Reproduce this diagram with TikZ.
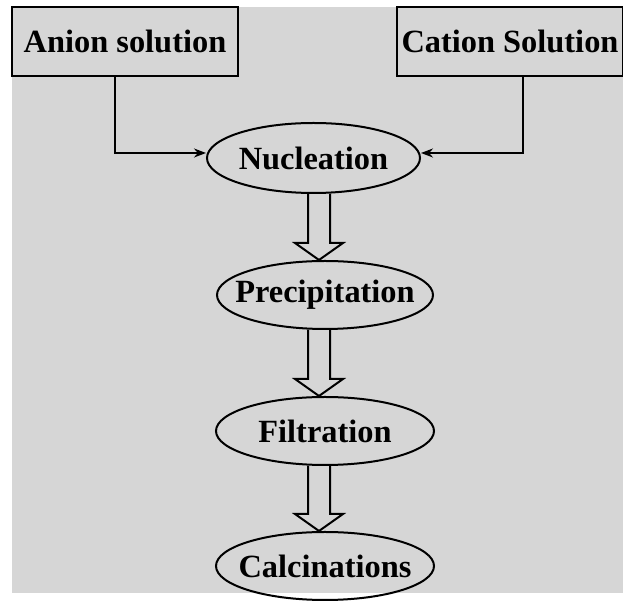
\documentclass[tikz,border=0pt]{standalone}
\usepackage{fontspec}
\setmainfont{Liberation Serif}
\usetikzlibrary{positioning, arrows.meta, calc, shapes.geometric}
\definecolor{bggray}{RGB}{214,214,214}
\newcommand{\zw}[1]{\makebox[0pt]{#1}}
% hollow block arrow from the bottom of #1 to the top of #2
\newcommand{\blockarrow}[2]{%
  \draw[hollow] ($(#1.south -| #2.north)+(-8.5pt,0)$) -- ($(#2.north)+(-8.5pt,8.5pt)$)
    -- ($(#2.north)+(-15pt,8.5pt)$) -- ($(#2.north)+(-3pt,0)$) -- ($(#2.north)+(9pt,8.5pt)$)
    -- ($(#2.north)+(2.5pt,8.5pt)$) -- ($(#1.south -| #2.north)+(2.5pt,0)$);}

\begin{document}
\begin{tikzpicture}[x=1pt, y=1pt, font=\bfseries\fontsize{16.2}{19}\selectfont, >={Stealth[length=6pt, width=4.5pt]},
  sol/.style={draw, line width=1pt, minimum width=113pt, minimum height=34.5pt, inner sep=2pt},
  proc/.style={draw, ellipse, line width=1pt, minimum width=108pt, minimum height=34pt, inner sep=0pt},
  hollow/.style={line width=1pt, line join=miter}]
  \useasboundingbox (0,0) rectangle (311.5,302.5);
  \fill[bggray] (6,6) rectangle (311.5,299);
  \node[sol] (an) at (62.5,281.75) {Anion solution};
  \node[sol] (ca) at (255,281.75) {Cation Solution};
  \node[proc, minimum width=106.5pt, minimum height=35pt] (nuc) at (156.75,223.5) {\zw{Nucleation}};
  \node[proc, below=33pt of nuc, xshift=5.75pt] (pre) {\zw{Precipitation}};
  \node[proc, below=33pt of pre, minimum width=109pt] (fil) {\zw{Filtration}};
  \node[proc, below=32.5pt of fil, minimum width=109pt] (cal) {\zw{Calcinations}};
  \draw[->, line width=1pt] ([xshift=-5pt]an.south) |- ([yshift=2.5pt]nuc.west);
  \draw[->, line width=1pt] ([xshift=6.5pt]ca.south) |- ([yshift=2.5pt]nuc.east);
  \blockarrow{nuc}{pre}
  \blockarrow{pre}{fil}
  \blockarrow{fil}{cal}
\end{tikzpicture}
\end{document}
